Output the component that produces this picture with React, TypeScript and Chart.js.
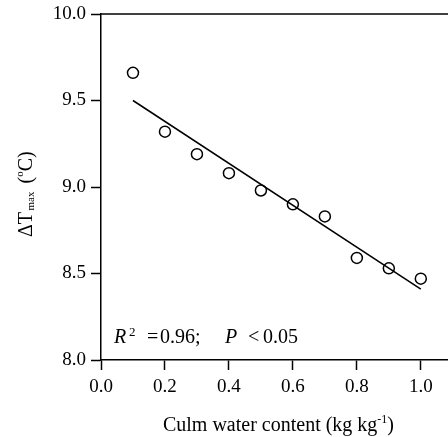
import React, { useEffect, useRef } from "react";
import { Chart, registerables } from "chart.js";

Chart.register(...registerables);

const X_VALUES = [0.1, 0.2, 0.3, 0.4, 0.5, 0.6, 0.7, 0.8, 0.9, 1.0];
const Y_VALUES = [9.66, 9.32, 9.19, 9.08, 8.98, 8.9, 8.83, 8.59, 8.53, 8.47];
const FIT_X = [0.1, 1.0];
const FIT_Y = [9.5, 8.41];
const X_TICKS = [0, 0.2, 0.4, 0.6, 0.8, 1.0];
const Y_MIN = 8;
const Y_MAX = 10;
const Y_STEP = 0.5;
const X_MIN = 0;
const X_MAX = 1.085;

const SERIF = "'Liberation Serif', 'Times New Roman', serif";

type Seg = { text: string; size: number; italic?: boolean; dy?: number; x?: number };

function drawSegs(ctx: CanvasRenderingContext2D, segs: Seg[], x0: number, y0: number) {
  let x = x0;
  for (const s of segs) {
    ctx.font = `${s.italic ? "italic " : ""}${s.size}px ${SERIF}`;
    const px = s.x !== undefined ? x0 + s.x : x;
    ctx.fillText(s.text, px, y0 + (s.dy || 0));
    x = px + ctx.measureText(s.text).width;
  }
}

function segsWidth(ctx: CanvasRenderingContext2D, segs: Seg[]) {
  let w = 0;
  for (const s of segs) {
    ctx.font = `${s.italic ? "italic " : ""}${s.size}px ${SERIF}`;
    w += ctx.measureText(s.text).width;
  }
  return w;
}

const decorPlugin = {
  id: "decor",
  afterDraw(chart: any) {
    const ctx: CanvasRenderingContext2D = chart.ctx;
    const a = chart.chartArea;
    ctx.save();
    ctx.strokeStyle = "#000";
    ctx.lineWidth = 1.5;
    ctx.beginPath();
    ctx.moveTo(a.left, a.top);
    ctx.lineTo(a.right, a.top);
    ctx.stroke();

    ctx.fillStyle = "#000";
    ctx.textBaseline = "alphabetic";
    ctx.textAlign = "left";

    drawSegs(
      ctx,
      [
        { text: "R", size: 20, italic: true, x: 0 },
        { text: "2", size: 13, dy: -7, x: 15 },
        { text: "=", size: 20, x: 33 },
        { text: "0.96;", size: 20, x: 46 },
        { text: "P", size: 20, italic: true, x: 111 },
        { text: "<", size: 20, x: 134 },
        { text: "0.05", size: 20, x: 149 },
      ],
      a.left + 13,
      a.bottom - 17
    );

    const xt: Seg[] = [
      { text: "Culm water content (kg kg", size: 20 },
      { text: "-1", size: 12, dy: -8 },
      { text: ")", size: 20 },
    ];
    const w = segsWidth(ctx, xt);
    drawSegs(ctx, xt, 278.5 - w / 2, 431);

    ctx.translate(32, 237);
    ctx.rotate(-Math.PI / 2);
    drawSegs(
      ctx,
      [
        { text: "ΔT", size: 20, x: 0 },
        { text: "max", size: 11, dy: 2, x: 26.5 },
        { text: "(", size: 20, x: 53.5 },
        { text: "o", size: 11, dy: -9 },
        { text: "C)", size: 20 },
      ],
      0,
      0
    );
    ctx.restore();
  },
};

export default function App() {
  const ref = useRef<HTMLCanvasElement>(null);
  useEffect(() => {
    if (!ref.current) return;
    const tickFont = { family: SERIF, size: 19 };
    const chart = new Chart(ref.current, {
      type: "scatter",
      data: {
        datasets: [
          {
            label: "obs",
            data: X_VALUES.map((x, i) => ({ x, y: Y_VALUES[i] })),
            showLine: false,
            pointStyle: "circle",
            pointRadius: 5.5,
            pointBorderWidth: 1.5,
            pointBackgroundColor: "rgba(255,255,255,0)",
            pointBorderColor: "#000",
            clip: false,
          },
          {
            label: "fit",
            data: FIT_X.map((x, i) => ({ x, y: FIT_Y[i] })),
            showLine: true,
            borderColor: "#000",
            borderWidth: 1.5,
            pointRadius: 0,
            fill: false,
          },
        ],
      },
      options: {
        responsive: false,
        animation: false,
        devicePixelRatio: 1,
        layout: { autoPadding: false, padding: { top: 14, left: 0, right: 0, bottom: 0 } },
        plugins: { legend: { display: false }, tooltip: { enabled: false }, title: { display: false } },
        scales: {
          x: {
            type: "linear",
            min: X_MIN,
            max: X_MAX,
            afterBuildTicks: (s: any) => {
              s.ticks = X_TICKS.map((v) => ({ value: v }));
            },
            afterFit: (s: any) => {
              s.height = 77;
              s.paddingLeft = 0;
              s.paddingRight = 0;
            },
            ticks: {
              color: "#000",
              font: tickFont,
              padding: 6,
              maxRotation: 0,
              callback: (v: any) => Number(v).toFixed(1),
            },
            grid: {
              drawOnChartArea: false,
              drawTicks: true,
              tickLength: 10,
              tickColor: "#000",
              tickWidth: 1.5,
            },
            border: { display: true, color: "#000", width: 1.5 },
          },
          y: {
            type: "linear",
            min: Y_MIN,
            max: Y_MAX,
            afterFit: (s: any) => {
              s.width = 101;
              s.paddingTop = 0;
              s.paddingBottom = 0;
            },
            ticks: {
              stepSize: Y_STEP,
              color: "#000",
              font: tickFont,
              padding: 5,
              callback: (v: any) => Number(v).toFixed(1),
            },
            grid: {
              drawOnChartArea: false,
              drawTicks: true,
              tickLength: 10,
              tickColor: "#000",
              tickWidth: 1.5,
            },
            border: { display: true, color: "#000", width: 1.5 },
          },
        },
      },
      plugins: [decorPlugin],
    } as any);
    return () => chart.destroy();
  }, []);
  return (
    <div style={{ position: "absolute", left: 0, top: 0, width: 448, height: 437, background: "#fff" }}>
      <canvas ref={ref} width={448} height={437} style={{ display: "block" }} />
    </div>
  );
}
